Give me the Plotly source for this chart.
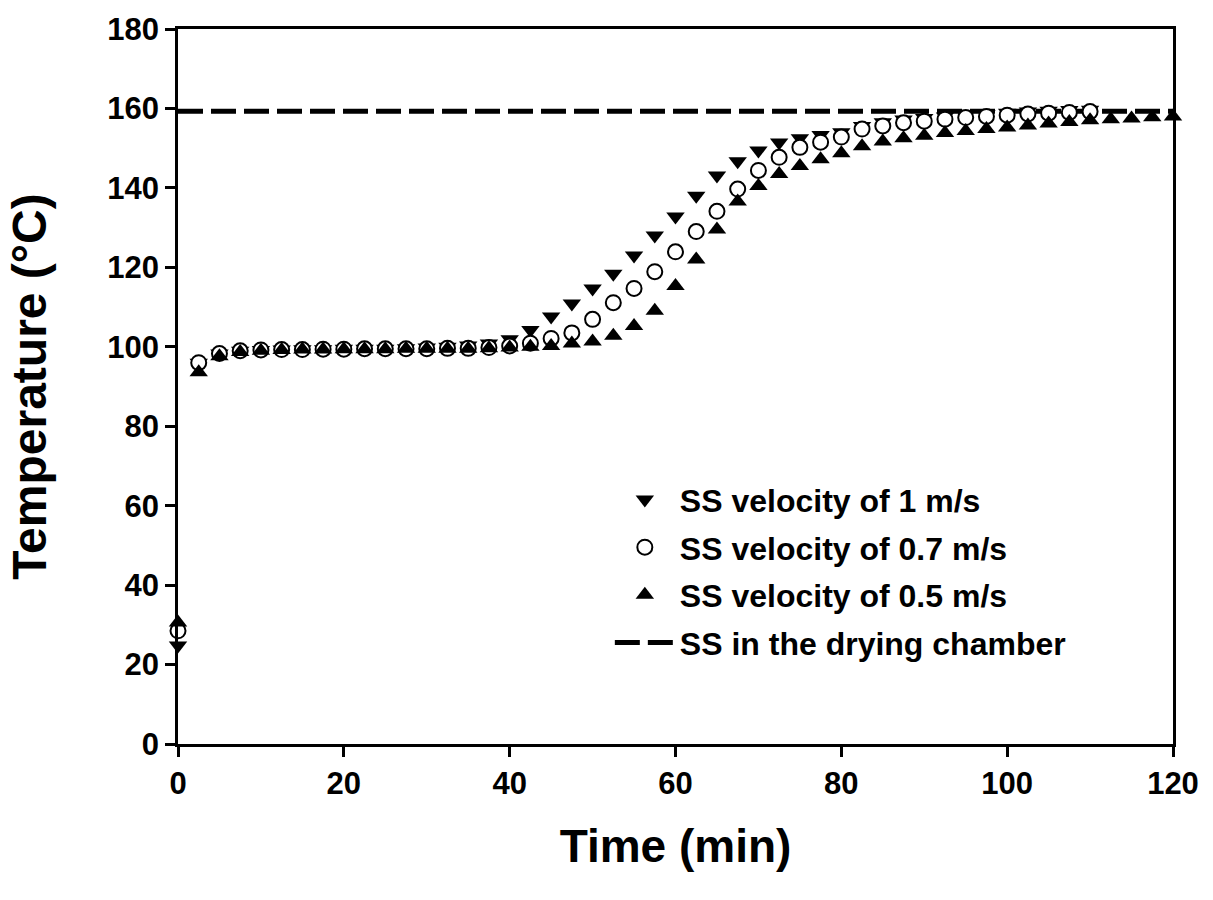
import plotly.graph_objects as go

# Time axis (min): readings every 2.5 min
time_fast = [i * 2.5 for i in range(45)]    # 0 .. 110
time_mid = [i * 2.5 for i in range(45)]     # 0 .. 110
time_slow = [i * 2.5 for i in range(49)]    # 0 .. 120

# SS temperature (°C) at 1 m/s
temp_1ms = [24.8, 96.0, 98.3, 99.0, 99.2, 99.3, 99.4, 99.4, 99.5, 99.5,
            99.5, 99.6, 99.8, 100.0, 100.3, 100.8, 101.9, 104.2, 107.6, 110.9,
            114.7, 118.4, 123.0, 128.0, 132.8, 138.0, 143.1, 146.7, 149.4, 151.4,
            152.5, 153.3, 154.0, 155.6, 156.5, 157.2, 157.6, 158.0, 158.3, 158.6,
            158.9, 159.2, 159.4, 159.6, 159.7]

# SS temperature (°C) at 0.7 m/s
temp_07ms = [28.5, 96.0, 98.3, 99.0, 99.2, 99.3, 99.3, 99.4, 99.4, 99.5,
             99.5, 99.5, 99.5, 99.6, 99.6, 99.8, 100.2, 100.9, 102.1, 103.5,
             106.9, 111.1, 114.7, 118.9, 123.9, 129.0, 134.1, 139.7, 144.4, 147.7,
             150.2, 151.5, 152.8, 154.8, 155.6, 156.4, 156.8, 157.3, 157.7, 158.0,
             158.3, 158.6, 158.8, 159.0, 159.2]

# SS temperature (°C) at 0.5 m/s
temp_05ms = [30.6, 93.6, 97.6, 98.7, 99.0, 99.2, 99.3, 99.3, 99.4, 99.4,
             99.4, 99.5, 99.5, 99.5, 99.5, 99.6, 99.8, 100.0, 100.2, 100.8,
             101.3, 102.8, 105.2, 109.1, 115.3, 122.0, 129.5, 136.6, 140.5, 143.5,
             145.5, 147.2, 148.7, 150.5, 151.7, 152.5, 153.1, 153.8, 154.3, 154.8,
             155.2, 155.7, 156.2, 156.6, 157.0, 157.3, 157.5, 157.8, 158.0]

# Drying chamber set temperature (°C)
chamber_time = [0, 120]
chamber_temp = [159.3, 159.3]

series_names = ["SS velocity of 1 m/s", "SS velocity of 0.7 m/s",
                "SS velocity of 0.5 m/s", "SS in the drying chamber"]

x_ticks = [0, 20, 40, 60, 80, 100, 120]
y_ticks = [0, 20, 40, 60, 80, 100, 120, 140, 160, 180]

FONT = "Arial, Liberation Sans, sans-serif"

fig = go.Figure()

fig.add_trace(go.Scatter(
    x=chamber_time, y=chamber_temp, mode="lines", name=series_names[3],
    line=dict(color="black", width=5, dash="25px,8px"),
    legendrank=4, legendgroup="d", cliponaxis=False))

fig.add_trace(go.Scatter(
    x=time_fast, y=temp_1ms, mode="markers", name=series_names[0],
    marker=dict(symbol="triangle-down", size=16, color="black",
                line=dict(width=0)),
    legendrank=1, legendgroup="a", cliponaxis=False))

fig.add_trace(go.Scatter(
    x=time_mid, y=temp_07ms, mode="markers", name=series_names[1],
    marker=dict(symbol="circle", size=15, color="white",
                line=dict(color="black", width=2)),
    legendrank=2, legendgroup="b", cliponaxis=False))

fig.add_trace(go.Scatter(
    x=time_slow, y=temp_05ms, mode="markers", name=series_names[2],
    marker=dict(symbol="triangle-up", size=16, color="black",
                line=dict(width=0)),
    legendrank=3, legendgroup="c", cliponaxis=False))

axis_common = dict(
    showline=True, linecolor="black", linewidth=2.5, mirror=True,
    ticks="outside", ticklen=10, tickwidth=2.5, tickcolor="black",
    showgrid=False, zeroline=False,
    tickfont=dict(family=FONT, size=31, color="black", weight="bold"),
)

fig.update_xaxes(range=[0, 120], tickvals=x_ticks, **axis_common,
                 title=dict(text="Time (min)", standoff=30,
                            font=dict(family=FONT, size=46, color="black",
                                      weight="bold")))
fig.update_yaxes(range=[0, 180], tickvals=y_ticks, **axis_common,
                 title=dict(text="Temperature (°C)", standoff=46,
                            font=dict(family=FONT, size=48, color="black",
                                      weight="bold")))

fig.update_layout(
    width=1213, height=900,
    margin=dict(l=178, r=40, t=25, b=156),
    paper_bgcolor="white", plot_bgcolor="white",
    showlegend=True,
    legend=dict(x=0.434, y=0.38, xanchor="left", yanchor="top",
                bgcolor="rgba(0,0,0,0)",
                font=dict(family=FONT, size=32, color="black", weight="bold"),
                itemwidth=60, tracegroupgap=3),
)

fig.write_html("out.html")
